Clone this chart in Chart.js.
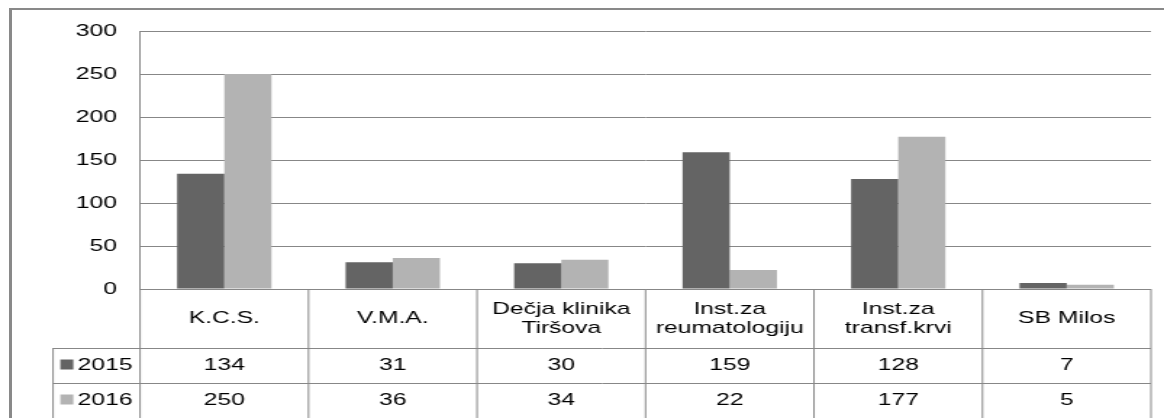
<!DOCTYPE html>
<html lang="sr">
<head>
  <meta charset="UTF-8" />
  <title>2015 / 2016</title>
  <style>
    body { margin: 0; background: white; }
    #wrap { position: relative; width: 1164px; height: 418px; overflow: hidden; }
    #frame {
      position: absolute; left: 9px; top: 8px; right: 0; bottom: 0;
      border-left: 3px solid #898989; border-top: 2px solid #898989;
      pointer-events: none;
    }
  </style>
</head>
<body>
  <div id="wrap">
    <div id="frame"></div>
    <!-- the original picture is stretched sideways, so the canvas is too -->
    <canvas id="chart" width="803" height="418" style="display:block;width:1164px;height:418px"></canvas>
  </div>

  <script src="https://cdn.jsdelivr.net/npm/chart.js"></script>
  <script>
    const categories = ['K.C.S.', 'V.M.A.', ['Dečja klinika', 'Tiršova'], ['Inst.za', 'reumatologiju'], ['Inst.za', 'transf.krvi'], 'SB Milos'];
    const seriesNames = ['2015', '2016'];
    const values2015 = [134, 31, 30, 159, 128, 7];
    const values2016 = [250, 36, 34, 22, 177, 5];
    const yMin = 0, yMax = 300, yStep = 50;

    const darkGray = '#646464';
    const lightGray = '#b3b3b3';
    const lineGray = '#878787';
    const font = { family: '"Liberation Sans", Arial, sans-serif', size: 17 };

    // data table under the plot (legend column + one row per series)
    const tablePlugin = {
      id: 'dataTable',
      afterDraw(chart) {
        const ctx = chart.ctx;
        const area = chart.chartArea;
        const n = chart.data.labels.length;
        const colW = (area.right - area.left) / n;
        const catRowBottom = area.bottom + 59;
        const rowH = 35;
        const legendLeft = 36.6;
        const bottom = chart.height;

        ctx.save();
        ctx.strokeStyle = lineGray;
        ctx.lineWidth = 1;
        ctx.beginPath();
        for (let i = 0; i <= n; i++) {
          const x = area.left + i * colW;
          ctx.moveTo(x, area.bottom);
          ctx.lineTo(x, bottom);
        }
        ctx.moveTo(legendLeft, catRowBottom);
        ctx.lineTo(legendLeft, bottom);
        for (let r = 0; r < 2; r++) {
          const y = Math.round(catRowBottom + r * rowH) + 0.5;
          ctx.moveTo(legendLeft, y);
          ctx.lineTo(area.right, y);
        }
        ctx.stroke();

        ctx.font = `${font.size}px ${font.family}`;
        ctx.textBaseline = 'middle';
        chart.data.datasets.forEach((ds, r) => {
          const yMid = catRowBottom + r * rowH + rowH / 2;
          ctx.fillStyle = ds.backgroundColor;
          ctx.fillRect(legendLeft + 5, yMid - 6, 9, 10);
          ctx.fillStyle = '#000';
          ctx.textAlign = 'left';
          ctx.fillText(ds.label, legendLeft + 17, yMid);
          ctx.textAlign = 'center';
          ds.data.forEach((v, i) => {
            ctx.fillText(String(v), chart.scales.x.getPixelForValue(i), yMid);
          });
        });
        ctx.restore();
      }
    };

    new Chart(document.getElementById('chart').getContext('2d'), {
      type: 'bar',
      data: {
        labels: categories,
        datasets: [
          { label: seriesNames[0], data: values2015, backgroundColor: darkGray },
          { label: seriesNames[1], data: values2016, backgroundColor: lightGray }
        ]
      },
      options: {
        responsive: false,
        animation: false,
        devicePixelRatio: 1,
        layout: { padding: { top: 31, right: 9, bottom: 0, left: 0 } },
        datasets: { bar: { categoryPercentage: 0.56, barPercentage: 1.0, borderWidth: 0 } },
        plugins: { legend: { display: false }, tooltip: { enabled: false } },
        scales: {
          x: {
            grid: { display: false },
            border: { display: false },
            ticks: {
              color: '#000', font: { ...font, lineHeight: 1.12 },
              padding: 12, crossAlign: 'center', maxRotation: 0, autoSkip: false
            },
            afterFit(scale) { scale.height = 129; }
          },
          y: {
            min: yMin, max: yMax,
            grid: { color: lineGray, drawTicks: false },
            border: { display: true, color: lineGray },
            ticks: { stepSize: yStep, color: '#000', font: font, padding: 16 },
            afterFit(scale) { scale.width = 96.6; }
          }
        }
      },
      plugins: [tablePlugin]
    });
  </script>
</body>
</html>
